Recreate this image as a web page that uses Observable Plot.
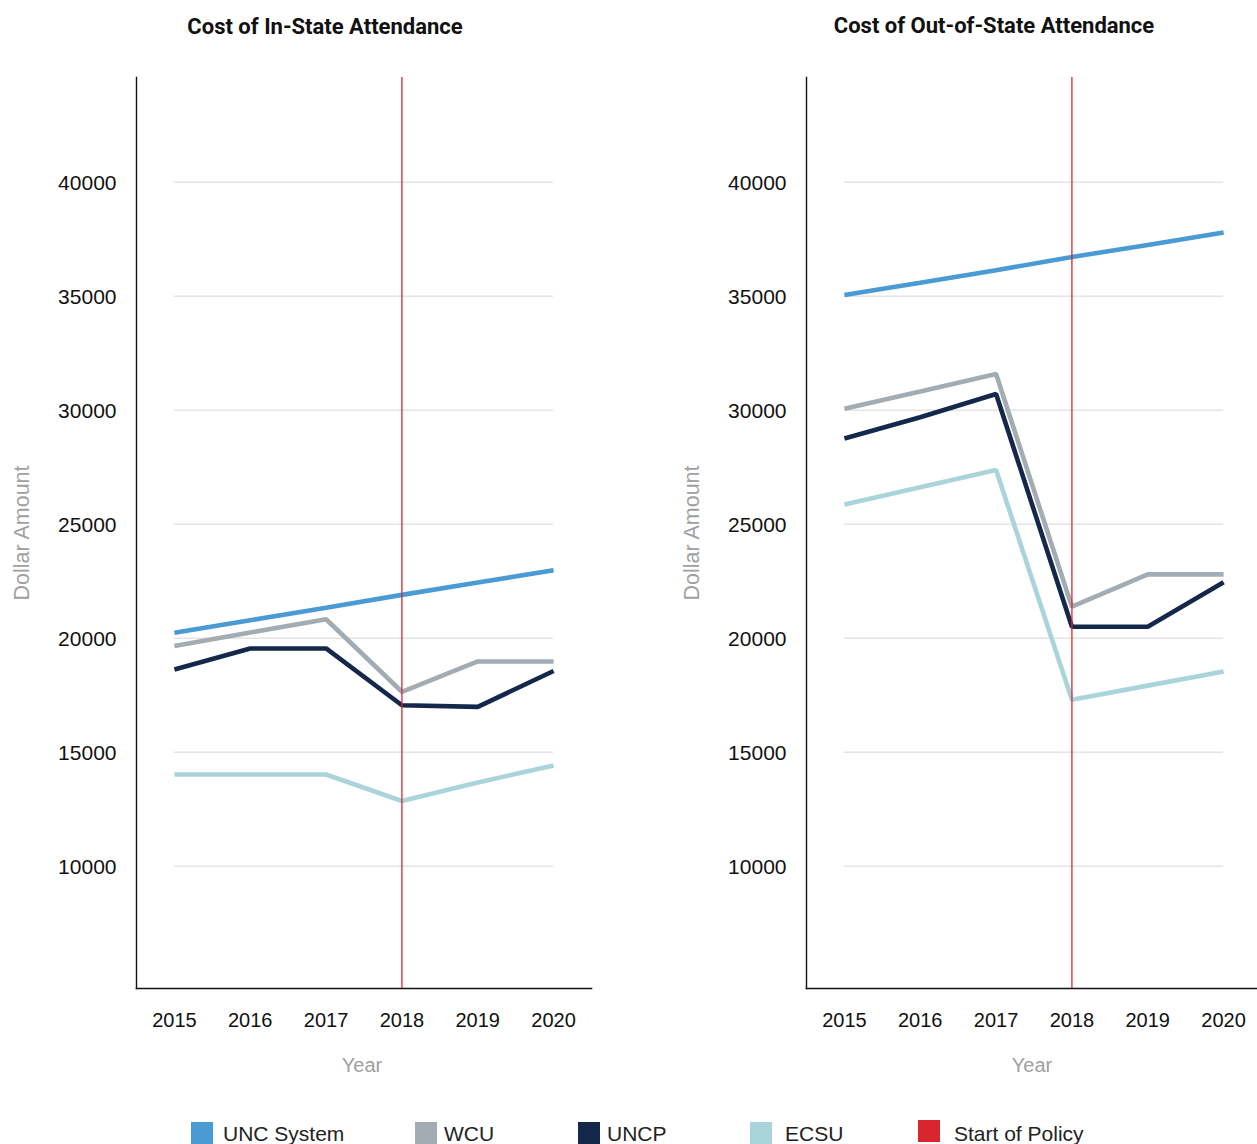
<!DOCTYPE html>
<html>
<head>
<meta charset="utf-8">
<script src="https://cdn.jsdelivr.net/npm/d3@7"></script>
<script src="https://cdn.jsdelivr.net/npm/@observablehq/plot@0.6"></script>
<style>
  html, body { margin: 0; padding: 0; background: #fff; overflow: hidden; }
  #wrap { position: relative; width: 1257px; height: 1144px; overflow: hidden; font-family: "Liberation Sans", Arial, sans-serif; }
  .title { position: absolute; transform: translateX(-50%); white-space: nowrap; font-family: Roboto, "Liberation Sans", sans-serif; font-weight: 700; font-size: 22px; color: #111; }
  .panel { position: absolute; top: 0; }
  .legend-item { position: absolute; top: 1122px; height: 22px; }
  .swatch { position: absolute; top: 0; width: 22px; height: 22px; }
  .legend-label { position: absolute; top: -1px; white-space: nowrap; font-size: 21px; line-height: 26px; color: #222; }
</style>
</head>
<body>
<div id="wrap"></div>
<script>
// Academic years on the x axis
const years = ["2015", "2016", "2017", "2018", "2019", "2020"];
const policyYear = "2018";

// Institutions and their line colours
const seriesNames = ["UNC System", "WCU", "UNCP", "ECSU"];
const seriesColors = ["#4a9bd4", "#a3acb3", "#13284a", "#a9d5da"];
const policyColor = "#d9262e";

// Cost of in-state attendance (USD)
const inStateUNC  = [20240, 20790, 21340, 21900, 22440, 22980];
const inStateWCU  = [19660, 20250, 20830, 17650, 18980, 18980];
const inStateUNCP = [18630, 19550, 19550, 17060, 16990, 18560];
const inStateECSU = [14020, 14020, 14020, 12860, 13670, 14420];

// Cost of out-of-state attendance (USD)
const outStateUNC  = [35050, 35590, 36140, 36720, 37250, 37790];
const outStateWCU  = [30060, 30820, 31590, 21380, 22800, 22800];
const outStateUNCP = [28760, 29690, 30710, 20500, 20500, 22450];
const outStateECSU = [25860, 26620, 27380, 17300, 17920, 18540];

// Y axis tick values
const yTicks = [10000, 15000, 20000, 25000, 30000, 35000, 40000];

function toRows(seriesValues) {
  const rows = [];
  seriesNames.forEach((name, i) => {
    years.forEach((year, j) => rows.push({series: name, year, value: seriesValues[i][j]}));
  });
  return rows;
}

const inStateRows = toRows([inStateUNC, inStateWCU, inStateUNCP, inStateECSU]);
const outStateRows = toRows([outStateUNC, outStateWCU, outStateUNCP, outStateECSU]);

function panel(rows, width, marginRight, labelShift) {
  return Plot.plot({
    width,
    height: 1100,
    marginTop: 77,
    marginBottom: 112,
    marginLeft: 136,
    marginRight,
    style: {fontFamily: "'Liberation Sans', Arial, sans-serif", background: "transparent", overflow: "visible"},
    x: {type: "point", domain: years, padding: 0.5, round: false},
    y: {domain: [4636, 44592]},
    color: {domain: seriesNames, range: seriesColors},
    marks: [
      Plot.ruleY(yTicks, {x1: () => years[0], x2: () => years[years.length - 1], stroke: "#e4e4e4", strokeWidth: 1.5}),
      Plot.frame({anchor: "left", stroke: "#111", strokeWidth: 1.4}),
      Plot.frame({anchor: "bottom", stroke: "#111", strokeWidth: 1.6}),
      Plot.axisY({ticks: yTicks, tickSize: 0, tickPadding: 20, tickFormat: d3.format("d"), fontSize: 21, fill: "#111", label: null, dy: 1}),
      Plot.axisX({tickSize: 0, tickPadding: 24, fontSize: 20, fill: "#111", label: null}),
      Plot.text(["Dollar Amount"], {frameAnchor: "left", textAnchor: "middle", lineAnchor: "middle", dx: -114, rotate: -90, fontSize: 21.5, fill: "#a0a0a0"}),
      Plot.text(["Year"], {frameAnchor: "bottom", textAnchor: "middle", lineAnchor: "middle", dy: 77, dx: labelShift, fontSize: 20, fill: "#a0a0a0"}),
      Plot.line(rows, {x: "year", y: "value", z: "series", stroke: "series", strokeWidth: 4.6, strokeLinejoin: "miter", strokeLinecap: "butt"}),
      Plot.ruleX([policyYear], {stroke: policyColor, strokeWidth: 1.3})
    ]
  });
}

const wrap = document.getElementById("wrap");

function addTitle(text, cx, top) {
  const t = document.createElement("div");
  t.className = "title";
  t.textContent = text;
  t.style.left = cx + "px";
  t.style.top = top + "px";
  wrap.appendChild(t);
}

const left = panel(inStateRows, 620, 29, -2);
left.classList.add("panel");
left.style.left = "0px";
wrap.appendChild(left);

const right = panel(outStateRows, 600, 9, -2);
right.classList.add("panel");
right.style.left = "670px";
wrap.appendChild(right);

addTitle("Cost of In-State Attendance", 325, 14);
addTitle("Cost of Out-of-State Attendance", 994, 13);

// Legend along the bottom
const legendItems = [
  {label: "UNC System", color: seriesColors[0], x: 191, tx: 223},
  {label: "WCU", color: seriesColors[1], x: 415, tx: 444},
  {label: "UNCP", color: seriesColors[2], x: 578, tx: 607},
  {label: "ECSU", color: seriesColors[3], x: 750, tx: 785},
  {label: "Start of Policy", color: policyColor, x: 918, tx: 954}
];
legendItems.forEach(item => {
  const sw = document.createElement("div");
  sw.className = "legend-item";
  sw.style.left = item.x + "px";
  const box = document.createElement("div");
  box.className = "swatch";
  box.style.background = item.color;
  box.style.left = "0px";
  if (item.label === "Start of Policy") box.style.top = "-2px";
  const lab = document.createElement("div");
  lab.className = "legend-label";
  lab.style.left = (item.tx - item.x) + "px";
  lab.textContent = item.label;
  sw.appendChild(box);
  sw.appendChild(lab);
  wrap.appendChild(sw);
});
</script>
</body>
</html>
